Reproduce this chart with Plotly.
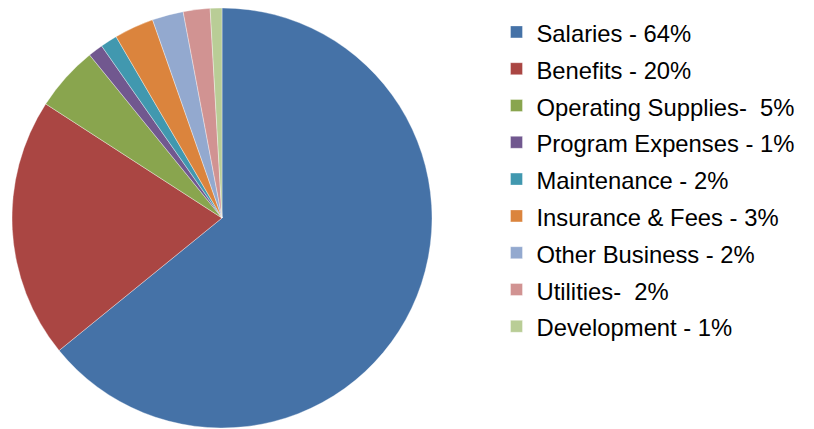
import plotly.graph_objects as go

labels = [
    "Salaries - 64%",
    "Benefits - 20%",
    "Operating Supplies-\u00a0 5%",
    "Program Expenses - 1%",
    "Maintenance - 2%",
    "Insurance & Fees - 3%",
    "Other Business - 2%",
    "Utilities-\u00a0 2%",
    "Development - 1%",
]
values = [64.1, 20.0, 5.0, 1.14, 1.3, 3.05, 2.4, 2.06, 0.9]
colors = ["#4572A7", "#AA4643", "#89A54E", "#71588F", "#4198AF",
          "#DB843D", "#93A9CF", "#D19392", "#B9CD96"]

W, H = 814, 429
# page body has an 8px offset; positions are in figure pixels
cx, cy, r = 214, 210, 210

fig = go.Figure(go.Pie(
    labels=[f'<span style="font-size:23.8px">{l}</span>' for l in labels],
    values=values,
    sort=False,
    direction="clockwise",
    rotation=0,
    textinfo="none",
    marker=dict(colors=colors, line=dict(color="rgba(255,255,255,0.6)", width=0.6)),
    domain=dict(x=[(cx - r) / W, (cx + r) / W], y=[(H - cy - r) / H, min(1, (H - cy + r) / H)]),
))

fig.update_layout(
    width=W, height=H,
    margin=dict(l=0, r=0, t=0, b=0),
    paper_bgcolor="white",
    plot_bgcolor="white",
    showlegend=True,
    legend=dict(
        x=(498.5 - 10) / W, y=1 - 0.5 / H, xanchor="left", yanchor="top",
        font=dict(family="Liberation Sans, Arial, sans-serif", size=26, color="#000000"),
        bgcolor="rgba(0,0,0,0)",
        itemclick=False,
    ),
)

fig.write_html("out.html")
